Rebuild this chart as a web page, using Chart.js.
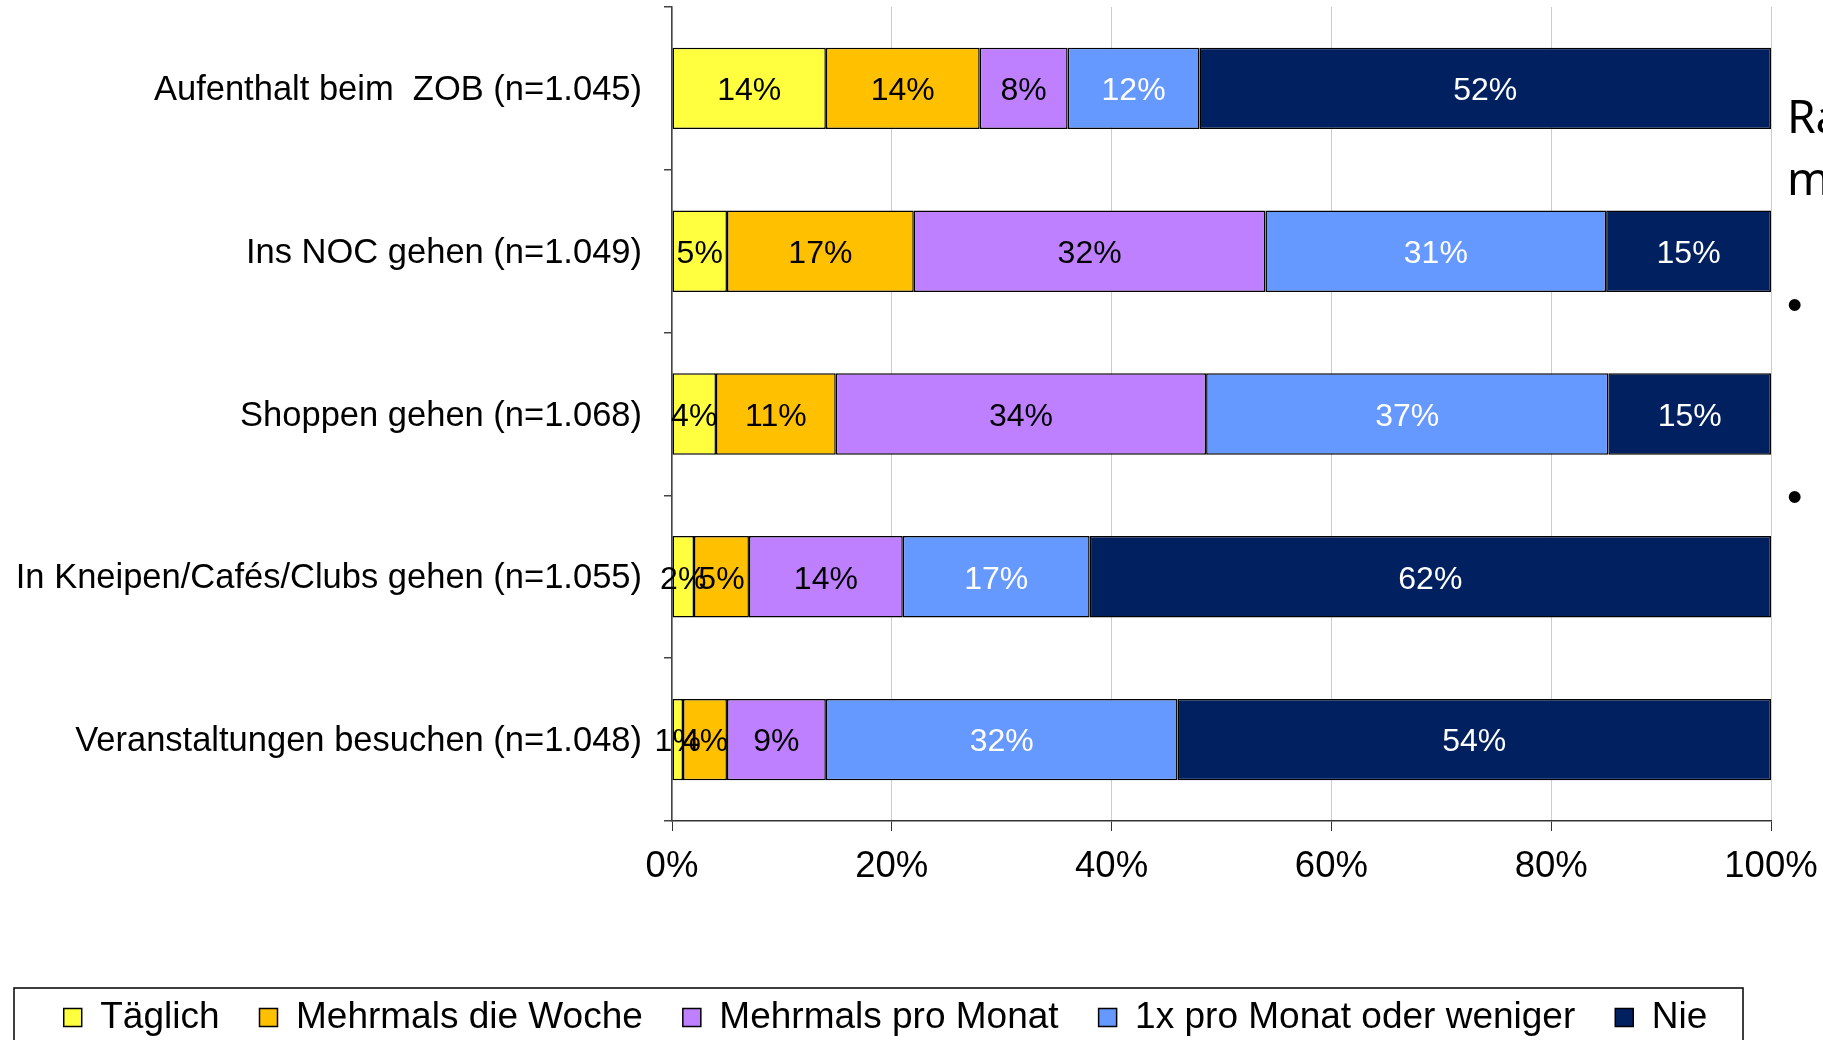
<!DOCTYPE html>
<html lang="de">

<head>
  <meta charset="UTF-8">
  <title>Nutzung der Innenstadt</title>
  <script src="https://cdn.jsdelivr.net/npm/chart.js"></script>
  <style>
    html, body {
      margin: 0;
      padding: 0;
      background: #ffffff;
      overflow: hidden;
      width: 1823px;
      height: 1040px;
    }

    .wrap {
      position: absolute;
      left: 0;
      top: 0;
      width: 1823px;
      height: 1046px;
    }

    .slide {
      position: absolute;
      font-family: 'Noto Sans', 'Open Sans', sans-serif;
      font-size: 46px;
      color: #000;
      white-space: nowrap;
    }

    .bullet {
      position: absolute;
      font-family: 'Liberation Sans', Arial, sans-serif;
      font-size: 44px;
      line-height: 44px;
      color: #000;
    }
  </style>
</head>

<body>
  <div class="wrap">
    <canvas id="chart"></canvas>
  </div>
  <div class="slide" style="left:1787px; top:84px; line-height:62px;">Ra<br>m</div>
  <div class="bullet" style="left:1787px; top:283px;">•</div>
  <div class="bullet" style="left:1787px; top:475px;">•</div>

  <script>
    const categories = [
      "Aufenthalt beim  ZOB (n=1.045)",
      "Ins NOC gehen (n=1.049)",
      "Shoppen gehen (n=1.068)",
      "In Kneipen/Cafés/Clubs gehen (n=1.055)",
      "Veranstaltungen besuchen (n=1.048)"
    ];

    const seriesNames = ["Täglich", "Mehrmals die Woche", "Mehrmals pro Monat", "1x pro Monat oder weniger", "Nie"];
    const taeglich = [14, 5, 4, 2, 1];
    const mehrmalsWoche = [14, 17, 10.9, 5, 4];
    const mehrmalsMonat = [8, 32, 33.7, 14, 9];
    const einmalMonat = [12, 31, 36.6, 17, 32];
    const nie = [52, 15, 14.8, 62, 54];

    const xTicks = [0, 20, 40, 60, 80, 100];

    const fills = ["#FFFF40", "#FFC000", "#BF80FF", "#6699FF", "#002060"];
    const labelColors = ["#000", "#000", "#000", "#fff", "#fff"];

    const font = "'Liberation Sans', Arial, sans-serif";

    const datasets = [taeglich, mehrmalsWoche, mehrmalsMonat, einmalMonat, nie].map((vals, i) => ({
      label: seriesNames[i],
      data: vals,
      backgroundColor: fills[i],
      borderColor: "#000",
      borderWidth: 1.5,
      borderSkipped: false,
      barPercentage: 1,
      categoryPercentage: 0.5
    }));

    // value labels in the middle of each segment
    const barLabels = {
      id: "barLabels",
      afterDatasetsDraw(chart) {
        const ctx = chart.ctx;
        ctx.save();
        ctx.font = "32px " + font;
        ctx.textAlign = "center";
        ctx.textBaseline = "middle";
        chart.data.datasets.forEach((ds, i) => {
          const meta = chart.getDatasetMeta(i);
          meta.data.forEach((bar, j) => {
            const cx = (bar.x + bar.base) / 2;
            ctx.fillStyle = labelColors[i];
            ctx.fillText(Math.round(ds.data[j]) + "%", cx, bar.y + 3);
          });
        });
        ctx.restore();
      }
    };

    // frame around the legend
    const legendFrame = {
      id: "legendFrame",
      afterDraw(chart) {
        const lg = chart.legend;
        const ctx = chart.ctx;
        ctx.save();
        ctx.strokeStyle = "#000";
        ctx.lineWidth = 1.5;
        ctx.strokeRect(14, lg.bottom - 58, 1729, 120);
        ctx.restore();
      }
    };

    new Chart(document.getElementById("chart"), {
      type: "bar",
      data: { labels: categories, datasets: datasets },
      options: {
        indexAxis: "y",
        responsive: true,
        maintainAspectRatio: false,
        animation: false,
        layout: { padding: { top: 7, right: 52, left: 0, bottom: 0 } },
        scales: {
          x: {
            stacked: true,
            min: 0,
            max: 100,
            afterBuildTicks(scale) {
              scale.ticks = xTicks.map(v => ({ value: v }));
            },
            afterFit(scale) {
              scale.height = 138;
              scale.paddingRight = 0;
              scale.paddingLeft = 0;
            },
            ticks: {
              callback: v => v + "%",
              color: "#000",
              padding: 14,
              font: { family: font, size: 36.5 }
            },
            grid: {
              color: "#cccccc",
              lineWidth: 1,
              tickColor: "#333",
              tickLength: 10
            },
            border: { color: "#333", width: 1.5 }
          },
          y: {
            stacked: true,
            afterFit(scale) {
              scale.width = 672;
              scale.paddingTop = 0;
              scale.paddingBottom = 0;
            },
            ticks: {
              color: "#000",
              padding: 22,
              labelOffset: 2,
              font: { family: font, size: 34.5 }
            },
            grid: {
              offset: true,
              drawOnChartArea: false,
              tickColor: "#444",
              tickLength: 8,
              lineWidth: 1.5
            },
            border: { color: "#444", width: 1.5 }
          }
        },
        plugins: {
          legend: {
            position: "bottom",
            labels: {
              color: "#000",
              boxWidth: 18,
              boxHeight: 18,
              padding: 40,
              font: { family: font, size: 37 }
            }
          },
          tooltip: { enabled: false }
        }
      },
      plugins: [barLabels, legendFrame]
    });
  </script>
</body>

</html>
